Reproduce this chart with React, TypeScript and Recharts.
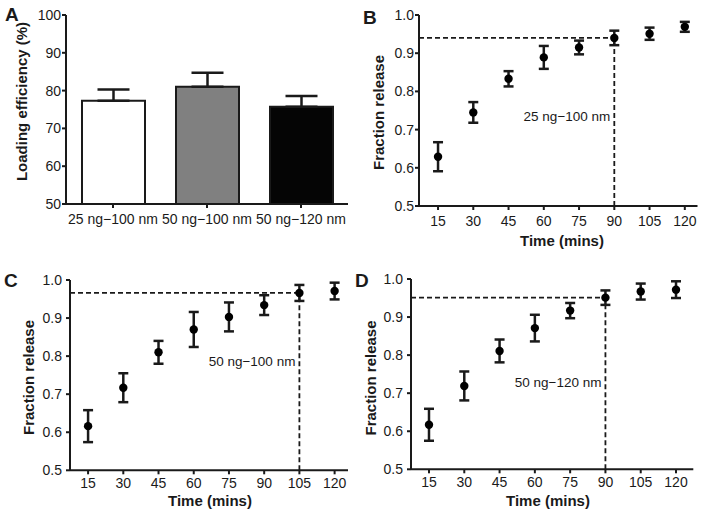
import React from 'react';
import {
  BarChart,
  Bar,
  Cell,
  XAxis,
  YAxis,
  ErrorBar,
  ScatterChart,
  Scatter,
  ReferenceLine,
} from 'recharts';

const FONT = '"Liberation Sans", Arial, Helvetica, sans-serif';
const INK = '#1a1a1a';

// ---- Panel A: loading efficiency ----
const groups = ['25 ng\u2212100 nm', '50 ng\u2212100 nm', '50 ng\u2212120 nm'];
const loadingMean = [77.3, 81.0, 75.7];
const loadingErr = [3.0, 3.7, 2.9];
const barColors = ['#ffffff', '#808080', '#050505'];
const loadingTicks = [50, 60, 70, 80, 90, 100];

// ---- Panels B, C, D: fraction release ----
const times = [15, 30, 45, 60, 75, 90, 105, 120];
const releaseB = [0.629, 0.745, 0.833, 0.889, 0.915, 0.94, 0.951, 0.969];
const errB = [0.038, 0.027, 0.02, 0.03, 0.018, 0.019, 0.016, 0.013];
const releaseC = [0.616, 0.717, 0.81, 0.87, 0.903, 0.934, 0.966, 0.971];
const errC = [0.042, 0.038, 0.03, 0.046, 0.038, 0.026, 0.021, 0.022];
const releaseD = [0.617, 0.719, 0.811, 0.871, 0.917, 0.951, 0.967, 0.972];
const errD = [0.042, 0.038, 0.03, 0.035, 0.02, 0.019, 0.021, 0.022];
const releaseTicks = [0.5, 0.6, 0.7, 0.8, 0.9, 1.0];

const tickStyle = { fill: INK, fontSize: 14, fontFamily: FONT };
const axisLine = { stroke: INK, strokeWidth: 2 };
const tickLine = { stroke: INK, strokeWidth: 2 };

function PanelA() {
  const data = groups.map((g, i) => ({ name: g, mean: loadingMean[i], err: [0, loadingErr[i]] }));
  return (
    <div style={{ position: 'absolute', left: 0, top: 0 }}>
      <BarChart width={355} height={260} data={data} margin={{ top: 15, right: 7, bottom: 26, left: 20 }}>
        <XAxis
          dataKey="name"
          height={30}
          tick={tickStyle}
          tickSize={4}
          tickMargin={6}
          axisLine={axisLine}
          tickLine={tickLine}
          interval={0}
        />
        <YAxis
          type="number"
          width={46}
          domain={[50, 100]}
          ticks={loadingTicks}
          tick={tickStyle}
          tickSize={4}
          tickMargin={1}
          axisLine={axisLine}
          tickLine={tickLine}
          allowDataOverflow
        />
        <Bar dataKey="mean" barSize={63} stroke={INK} strokeWidth={2} isAnimationActive={false}>
          {data.map((d, i) => (
            <Cell key={d.name} fill={barColors[i]} />
          ))}
          <ErrorBar dataKey="err" direction="y" width={16} stroke={INK} strokeWidth={2.5} />
        </Bar>
        <text x={5} y={21} fontSize={19} fontWeight="bold" fill={INK} fontFamily={FONT}>A</text>
        <text
          x={27}
          y={101.5}
          transform="rotate(-90, 27, 101.5)"
          textAnchor="middle"
          fontSize={15}
          fontWeight="bold"
          fill={INK}
          fontFamily={FONT}
        >
          Loading efficiency (%)
        </text>
      </BarChart>
    </div>
  );
}

type PanelProps = {
  left: number;
  top: number;
  width: number;
  height: number;
  margin: { top: number; right: number; bottom: number; left: number };
  yTickMargin: number;
  xTickMargin: number;
  xDomain: [number, number];
  values: number[];
  errs: number[];
  refTime: number;
  tag: string;
  tagDy: number;
  letter: string;
  letterPos: [number, number];
  yTitlePos: [number, number];
  xTitlePos: [number, number];
};

function ReleasePanel(p: PanelProps) {
  const data = times.map((t, i) => ({ t, v: p.values[i], e: p.errs[i] }));
  const refY = p.values[times.indexOf(p.refTime)];
  const renderTag = (lp: any) => {
    const vb = lp.viewBox || { x: 0, y: 0, width: 0, height: 0 };
    return (
      <text
        x={vb.x - 4}
        y={vb.y + vb.height / 2 + p.tagDy}
        textAnchor="end"
        dominantBaseline="central"
        fontSize={13.5}
        fill={INK}
        fontFamily={FONT}
      >
        {p.tag}
      </text>
    );
  };
  const dot = (sp: any) => <circle cx={sp.cx} cy={sp.cy} r={4.2} fill="#000" />;
  return (
    <div style={{ position: 'absolute', left: p.left, top: p.top }}>
      <ScatterChart width={p.width} height={p.height} margin={p.margin}>
        <XAxis
          type="number"
          dataKey="t"
          height={40}
          domain={p.xDomain}
          ticks={times}
          interval={0}
          allowDataOverflow
          tick={tickStyle}
          tickSize={4}
          tickMargin={p.xTickMargin}
          axisLine={axisLine}
          tickLine={tickLine}
        />
        <YAxis
          type="number"
          dataKey="v"
          width={44}
          domain={[0.5, 1]}
          ticks={releaseTicks}
          interval={0}
          allowDataOverflow
          tickFormatter={(v: number) => v.toFixed(1)}
          tick={tickStyle}
          tickSize={4}
          tickMargin={p.yTickMargin}
          axisLine={axisLine}
          tickLine={tickLine}
        />
        <ReferenceLine
          segment={[{ x: p.xDomain[0], y: refY }, { x: p.refTime, y: refY }]}
          stroke={INK}
          strokeWidth={1.8}
          strokeDasharray="5 3"
        />
        <ReferenceLine
          segment={[{ x: p.refTime, y: 0.5 }, { x: p.refTime, y: refY }]}
          stroke={INK}
          strokeWidth={1.8}
          strokeDasharray="5 3"
          label={renderTag}
        />
        <Scatter data={data} dataKey="v" shape={dot} isAnimationActive={false}>
          <ErrorBar dataKey="e" direction="y" width={5} stroke={INK} strokeWidth={2.5} />
        </Scatter>
        <text x={p.letterPos[0]} y={p.letterPos[1]} fontSize={19} fontWeight="bold" fill={INK} fontFamily={FONT}>
          {p.letter}
        </text>
        <text
          x={p.yTitlePos[0]}
          y={p.yTitlePos[1]}
          transform={`rotate(-90, ${p.yTitlePos[0]}, ${p.yTitlePos[1]})`}
          textAnchor="middle"
          fontSize={15}
          fontWeight="bold"
          fill={INK}
          fontFamily={FONT}
        >
          Fraction release
        </text>
        <text
          x={p.xTitlePos[0]}
          y={p.xTitlePos[1]}
          textAnchor="middle"
          fontSize={15}
          fontWeight="bold"
          fill={INK}
          fontFamily={FONT}
        >
          Time (mins)
        </text>
      </ScatterChart>
    </div>
  );
}

export default function App() {
  return (
    <div
      style={{
        position: 'absolute',
        left: 0,
        top: 0,
        width: 709,
        height: 520,
        background: '#ffffff',
        fontFamily: FONT,
        overflow: 'hidden',
      }}
    >
      <PanelA />
      <ReleasePanel
        left={355}
        top={0}
        width={354}
        height={260}
        margin={{ top: 15, right: 11.5, bottom: 14, left: 20 }}
        yTickMargin={1}
        xTickMargin={6}
        xDomain={[6.9, 125.4]}
        values={releaseB}
        errs={errB}
        refTime={90}
        tag={'25 ng\u2212100 nm'}
        tagDy={-5}
        letter="B"
        letterPos={[8, 24]}
        yTitlePos={[28.5, 112.5]}
        xTitlePos={[207, 246]}
      />
      <ReleasePanel
        left={0}
        top={260}
        width={355}
        height={260}
        margin={{ top: 20, right: 7, bottom: 9.7, left: 26 }}
        yTickMargin={4}
        xTickMargin={4}
        xDomain={[7.3, 125.7]}
        values={releaseC}
        errs={errC}
        refTime={105}
        tag={'50 ng\u2212100 nm'}
        tagDy={-20}
        letter="C"
        letterPos={[4, 26.5]}
        yTitlePos={[33.5, 117.5]}
        xTitlePos={[210, 245.5]}
      />
      <ReleasePanel
        left={355}
        top={260}
        width={354}
        height={260}
        margin={{ top: 19, right: 15.7, bottom: 10.7, left: 12 }}
        yTickMargin={4}
        xTickMargin={4}
        xDomain={[7.35, 127.35]}
        values={releaseD}
        errs={errD}
        refTime={90}
        tag={'50 ng\u2212120 nm'}
        tagDy={-1}
        letter="D"
        letterPos={[0, 27]}
        yTitlePos={[20.5, 118]}
        xTitlePos={[193, 245.5]}
      />
    </div>
  );
}
